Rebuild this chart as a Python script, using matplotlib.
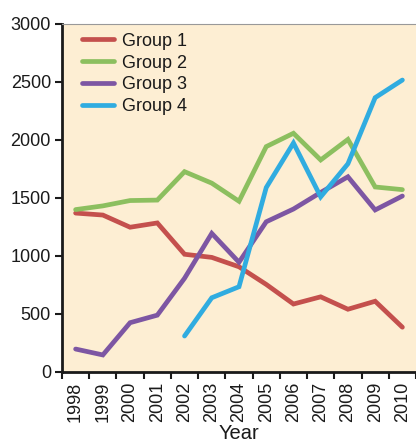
import numpy as np
import matplotlib.pyplot as plt

plt.rcParams['font.family'] = ['Liberation Sans', 'DejaVu Sans']

# values
years = [1998, 1999, 2000, 2001, 2002, 2003, 2004, 2005, 2006, 2007, 2008, 2009, 2010]
group1 = [1370, 1353, 1248, 1285, 1015, 988, 907, 755, 586, 648, 541, 610, 386]
group2 = [1400, 1432, 1478, 1482, 1727, 1628, 1472, 1943, 2058, 1828, 2005, 1595, 1572]
group3 = [198, 147, 425, 490, 808, 1195, 946, 1295, 1405, 1548, 1683, 1397, 1517]
group4 = [None, None, None, None, 310, 640, 735, 1590, 1974, 1510, 1795, 2365, 2517]
names = ['Group 1', 'Group 2', 'Group 3', 'Group 4']
colors = ['#c4504d', '#8cbf5f', '#7d56a3', '#30ace0']

fig = plt.figure(figsize=(4.16, 4.46), dpi=100)
ax = fig.add_axes([62/416, 74/446, 1 - 62/416, 348/446])
ax.set_facecolor('#fdeed3')

x = np.arange(len(years))
for vals, name, c in zip([group1, group2, group3, group4], names, colors):
    v = np.array([np.nan if a is None else a for a in vals], dtype=float)
    ax.plot(x, v, color=c, lw=3.4, label=name, solid_capstyle='round', solid_joinstyle='miter')

ax.set_xlim(-0.5, len(years) - 0.5)
ax.set_ylim(0, 3000)
ax.set_yticks([0, 500, 1000, 1500, 2000, 2500, 3000])
ax.tick_params(axis='y', labelsize=13, length=5, width=1.5, pad=3, colors='#1a1a1a')

# ticks on category boundaries, labels in the middle
ax.set_xticks(np.arange(-0.5, len(years) + 0.5, 1))
ax.set_xticklabels([])
ax.tick_params(axis='x', which='major', length=5, width=1.5, color='#1a1a1a')
ax.set_xticks(x, minor=True)
ax.set_xticklabels([str(y) for y in years], minor=True, rotation=90, fontsize=13, color='#1a1a1a')
ax.tick_params(axis='x', which='minor', length=0, pad=7)

ax.spines['right'].set_visible(False)
ax.spines['top'].set_color('#999999')
ax.spines['top'].set_linewidth(0.8)
for s in ['left', 'bottom']:
    ax.spines[s].set_linewidth(2)
    ax.spines[s].set_color('#1a1a1a')

ax.set_xlabel('Year', fontsize=14.5, color='#1a1a1a')
ax.xaxis.set_label_coords(0.5, -0.176)
ax.xaxis.label.set_va('center')

leg = ax.legend(loc='upper left', frameon=False, fontsize=13, handlelength=1.8,
                handletextpad=0.45, labelspacing=0.27, borderaxespad=0, borderpad=0,
                bbox_to_anchor=(0.056, 0.975))
for t in leg.get_texts():
    t.set_color('#1a1a1a')

fig.savefig('out.png', dpi=100)
